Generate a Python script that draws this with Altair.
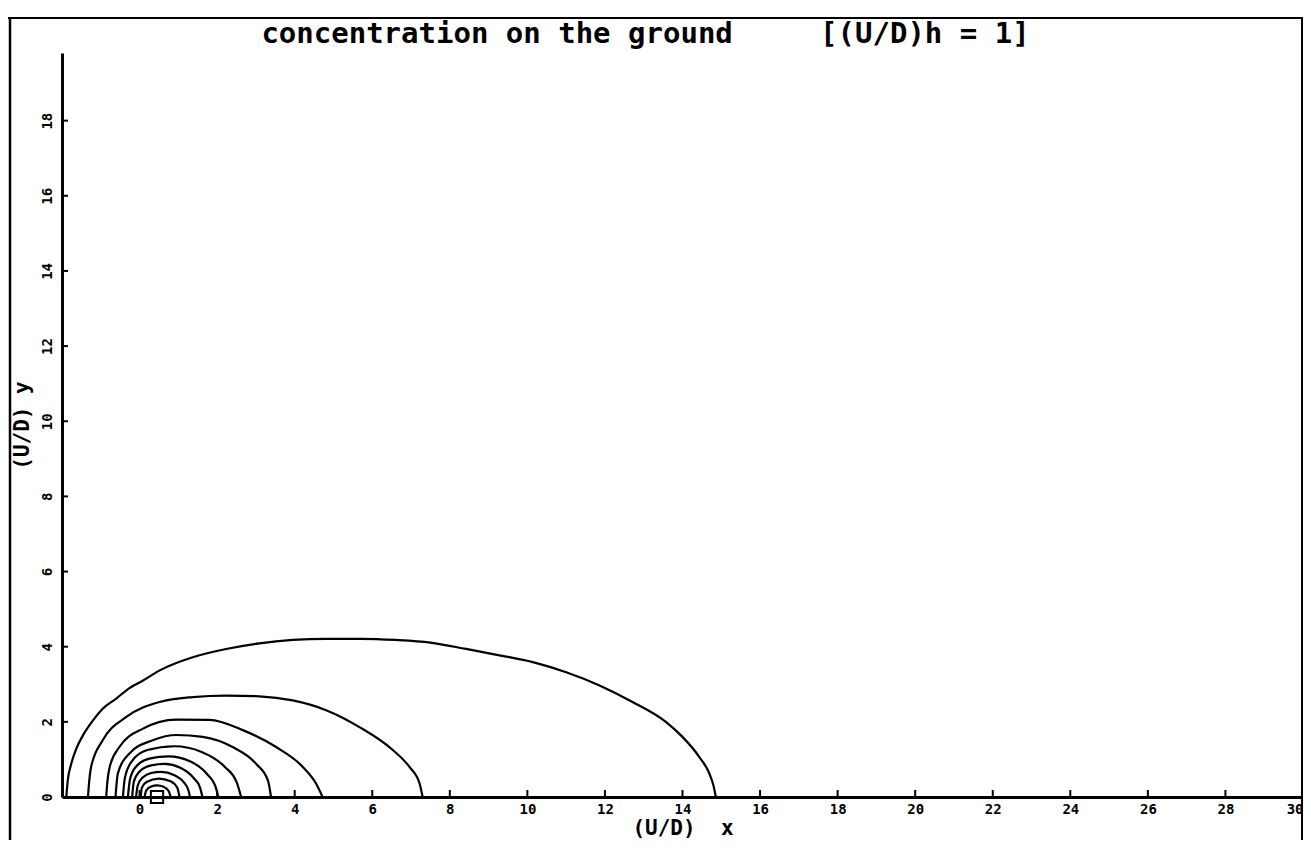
import altair as alt
import pandas as pd

# ---- data ----
x_ticks = list(range(0, 31, 2))
y_ticks = list(range(2, 19, 2))

c1_x = [-1.89, -1.85, -1.76, -1.63, -1.46, -1.20, -0.95, -0.60, -0.34, 0.09, 0.52, 1.37, 2.23, 3.09,
        3.95, 4.81, 5.7, 6.6, 7.5, 8.42, 9.28, 10.14, 11.0, 11.86, 12.71, 13.57, 14.0, 14.43, 14.69,
        14.8, 14.86]
c1_y = [0, 0.45, 0.89, 1.29, 1.64, 2.04, 2.35, 2.62, 2.84, 3.10, 3.37, 3.72, 3.94, 4.09,
        4.18, 4.21, 4.21, 4.18, 4.11, 3.94, 3.77, 3.59, 3.32, 2.97, 2.53, 2.0, 1.6, 1.07, 0.63,
        0.3, 0]

c2_x = [-1.33, -1.30, -1.25, -0.95, -0.34, 0.52, 1.37, 2.23, 3.09, 3.95, 4.81, 5.67, 6.53, 6.96, 7.22, 7.3]
c2_y = [0, 0.4, 0.8, 1.51, 2.13, 2.53, 2.66, 2.7, 2.68, 2.57, 2.31, 1.86, 1.25, 0.8, 0.36, 0]

c3_x = [-0.86, -0.83, -0.77, -0.52, 0.09, 0.95, 1.8, 2.66, 3.52, 4.21, 4.55, 4.72]
c3_y = [0, 0.4, 0.8, 1.33, 1.82, 2.06, 2.05, 1.78, 1.33, 0.8, 0.36, 0]

c4_x = [-0.62, -0.56, -0.26, 0.34, 0.95, 1.63, 2.4, 3.01, 3.31, 3.39]
c4_y = [0, 0.63, 1.16, 1.51, 1.65, 1.6, 1.33, 0.88, 0.44, 0]

c5_x = [-0.43, -0.38, -0.2, 0.2, 0.9, 1.6, 2.2, 2.5, 2.62]
c5_y = [0, 0.5, 0.95, 1.25, 1.35, 1.2, 0.8, 0.4, 0]

c6_x = [-0.3, -0.25, -0.1, 0.25, 0.75, 1.3, 1.75, 1.95, 2.03]
c6_y = [0, 0.45, 0.8, 1.02, 1.08, 0.95, 0.6, 0.3, 0]

c7_x = [-0.19, -0.15, 0.0, 0.3, 0.65, 1.05, 1.4, 1.56, 1.62]
c7_y = [0, 0.4, 0.68, 0.84, 0.88, 0.78, 0.5, 0.25, 0]

c8_x = [-0.09, -0.05, 0.08, 0.3, 0.55, 0.9, 1.15, 1.26, 1.3]
c8_y = [0, 0.3, 0.52, 0.64, 0.67, 0.58, 0.38, 0.18, 0]

c9_x = [0.03, 0.06, 0.18, 0.5, 0.8, 0.97, 1.03]
c9_y = [0, 0.25, 0.4, 0.49, 0.42, 0.25, 0]

c10_x = [0.13, 0.17, 0.3, 0.45, 0.62, 0.75, 0.8]
c10_y = [0, 0.17, 0.28, 0.31, 0.27, 0.16, 0]

source_x = [0.45]
source_y = [0.0]

contours = [(c1_x, c1_y), (c2_x, c2_y), (c3_x, c3_y), (c4_x, c4_y), (c5_x, c5_y),
            (c6_x, c6_y), (c7_x, c7_y), (c8_x, c8_y), (c9_x, c9_y), (c10_x, c10_y)]
rows = []
for i, (xs, ys) in enumerate(contours):
    for j, (xv, yv) in enumerate(zip(xs, ys)):
        rows.append({"level": i + 1, "order": j, "x": xv, "y": yv})
df = pd.DataFrame(rows)

W, H = 1241, 744
FONT = "DejaVu Sans Mono"
NB = "\u00a0"

xscale = alt.Scale(domain=[-2, 30], nice=False, zero=False)
yscale = alt.Scale(domain=[0, 19.8], nice=False, zero=False)


def x_axis():
    return alt.Axis(values=x_ticks, title=f"(U/D){NB}{NB}x", ticks=False, tickSize=0, grid=False,
                    domainColor="black", domainWidth=3, labelFont=FONT, labelFontWeight="bold",
                    labelFontSize=14, labelColor="black", labelPadding=5,
                    titleFont=FONT, titleFontWeight="bold", titleFontSize=21, titleColor="black",
                    titleBaseline="alphabetic", titleY=37)


def y_axis():
    return alt.Axis(values=[0] + y_ticks, title=f"(U/D){NB}y", ticks=False, tickSize=0, grid=False,
                    domainColor="black", domainWidth=3, labelFont=FONT, labelFontWeight="bold",
                    labelFontSize=14, labelColor="black", labelAngle=-90, labelAlign="center",
                    labelBaseline="bottom", labelPadding=8,
                    titleFont=FONT, titleFontWeight="bold", titleFontSize=21, titleColor="black",
                    titleBaseline="alphabetic", titleX=-34)


def X():
    return alt.X("x:Q", scale=xscale, axis=x_axis())


def Y():
    return alt.Y("y:Q", scale=yscale, axis=y_axis())


lines = alt.Chart(df).mark_line(color="black", strokeWidth=2.2, interpolate="monotone").encode(
    x=X(), y=Y(), detail="level:N", order="order:Q",
)

src = alt.Chart(pd.DataFrame({"x": source_x, "y": source_y})).mark_point(
    shape="square", filled=False, size=150, strokeWidth=2, color="black", opacity=1
).encode(x=X(), y=Y())

xt = alt.Chart(pd.DataFrame({"x": x_ticks})).mark_rule(color="black", strokeWidth=2).encode(
    x=X(), y=alt.value(H - 7), y2=alt.value(H)
)
yt = alt.Chart(pd.DataFrame({"y": y_ticks})).mark_rule(color="black", strokeWidth=2).encode(
    y=Y(), x=alt.value(0), x2=alt.value(6)
)

# scanned page frame
frame_top = alt.Chart(pd.DataFrame({"k": [0]})).mark_rule(color="black", strokeWidth=2).encode(
    x=alt.value(-54), x2=alt.value(W), y=alt.value(-35))
frame_left = alt.Chart(pd.DataFrame({"k": [0]})).mark_rule(color="black", strokeWidth=2.5).encode(
    x=alt.value(-52), y=alt.value(-35), y2=alt.value(H + 60))
frame_right = alt.Chart(pd.DataFrame({"k": [0]})).mark_rule(color="black", strokeWidth=2).encode(
    x=alt.value(W - 1), y=alt.value(-35), y2=alt.value(H + 60))

chart = alt.layer(lines, src, xt, yt, frame_top, frame_left, frame_right).properties(
    width=W, height=H,
    title=alt.TitleParams(
        text=f"concentration on the ground{NB*5}[(U/D)h = 1]",
        font=FONT, fontSize=29, fontWeight="bold", color="black",
        anchor="middle", dx=-37, dy=31, offset=-24, baseline="alphabetic",
    ),
    autosize=alt.AutoSizeParams(type="none"),
    padding={"left": 54, "top": 45, "right": 0, "bottom": 43},
    background="white",
).configure_view(stroke=None)

chart.save("out.html", embed_options={"renderer": "svg", "actions": False})
